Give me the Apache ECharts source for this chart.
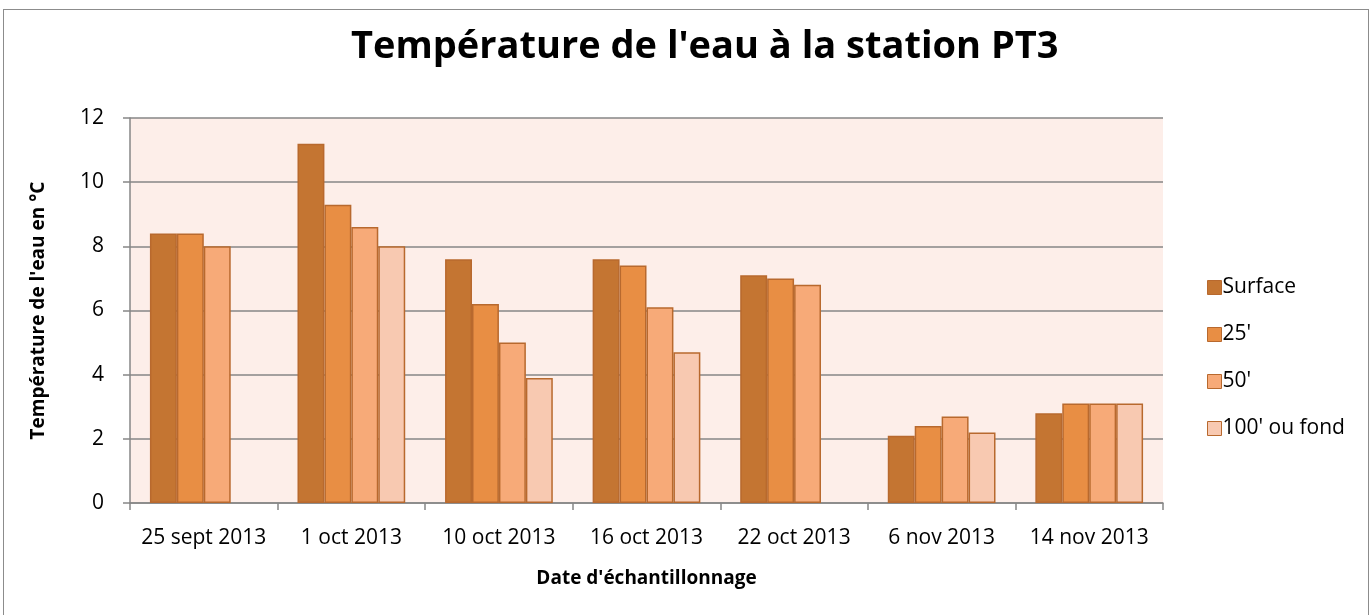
<!DOCTYPE html>
<html>
<head>
<meta charset="utf-8">
<script src="https://cdn.jsdelivr.net/npm/echarts@6/dist/echarts.min.js"></script>
<style>
  html,body{margin:0;padding:0;background:#fff;}
  #chartDiv{position:absolute;left:0;top:0;width:1372px;height:615px;}
  #frame{position:absolute;left:3px;top:9px;width:1366px;height:620px;border:1px solid #8c8c8c;box-sizing:border-box;pointer-events:none;}
</style>
</head>
<body>
<div id="chartDiv"></div>
<div id="frame"></div>
<script>
var categories = ['25 sept 2013', '1 oct 2013', '10 oct 2013', '16 oct 2013', '22 oct 2013', '6 nov 2013', '14 nov 2013'];
var surface = [8.4, 11.2, 7.6, 7.6, 7.1, 2.1, 2.8];
var pied25 = [8.4, 9.3, 6.2, 7.4, 7.0, 2.4, 3.1];
var pied50 = [8.0, 8.6, 5.0, 6.1, 6.8, 2.7, 3.1];
var pied100 = [null, 8.0, 3.9, 4.7, null, 2.2, 3.1];
var seriesNames = ['Surface', "25'", "50'", "100' ou fond"];
var colors = ['#c47532', '#e88e44', '#f7aa78', '#f8c9b1'];

var myChart = echarts.init(document.getElementById('chartDiv'));
var font = '"Open Sans", "Noto Sans", sans-serif';

var mkSeries = function(name, data, color){
    return {
        name: name,
        type: 'bar',
        data: data,
        barGap: '0%',
        barCategoryGap: '27%',
        itemStyle: { color: color, borderColor: '#b8692e', borderWidth: 1.5 },
        emphasis: { disabled: true }
    }
}

var option = {
    animation: false,
    textStyle: { fontFamily: font },
    title: {
        text: "Température de l'eau à la station PT3",
        left: 346,
        top: 23,
        textStyle: { fontSize: 38, fontWeight: 'bold', color: '#000', fontFamily: font }
    },
    legend: {
        orient: 'vertical',
        left: 1202,
        top: 272,
        itemWidth: 14,
        itemHeight: 14,
        itemGap: 26,
        icon: 'rect',
        textStyle: { fontSize: 21, color: '#000', padding: [0, 0, 0, -4] },
        data: seriesNames.map(function(n){ return { name: n, itemStyle: { borderColor: '#b8692e', borderWidth: 1 } } })
    },
    grid: {
        left: 130,
        right: 209,
        top: 118,
        bottom: 112,
        show: true,
        backgroundColor: '#fdeee9',
        borderWidth: 0
    },
    xAxis: {
        type: 'category',
        data: categories,
        name: "Date d'échantillonnage",
        nameLocation: 'middle',
        nameGap: 66,
        nameTextStyle: { fontSize: 19, fontWeight: 'bold', color: '#000' },
        axisLine: { lineStyle: { color: '#868686', width: 1.5 } },
        axisTick: { show: true, length: 7, lineStyle: { color: '#868686', width: 1.5 } },
        axisLabel: { fontSize: 21, color: '#000', margin: 25, interval: 0 }
    },
    yAxis: {
        type: 'value',
        min: 0,
        max: 12,
        interval: 2,
        name: "Température de l'eau en °C",
        nameLocation: 'middle',
        nameGap: 82,
        nameTextStyle: { fontSize: 19, fontWeight: 'bold', color: '#000' },
        axisLine: { show: true, lineStyle: { color: '#868686', width: 1.5 } },
        axisTick: { show: true, length: 7, lineStyle: { color: '#868686', width: 1.5 } },
        axisLabel: { fontSize: 21, color: '#000', margin: 26 },
        splitLine: { lineStyle: { color: '#868686', width: 1.5 } }
    },
    series: [
        mkSeries(seriesNames[0], surface, colors[0]),
        mkSeries(seriesNames[1], pied25, colors[1]),
        mkSeries(seriesNames[2], pied50, colors[2]),
        mkSeries(seriesNames[3], pied100, colors[3])
    ]
};

myChart.setOption(option);
</script>
</body>
</html>
